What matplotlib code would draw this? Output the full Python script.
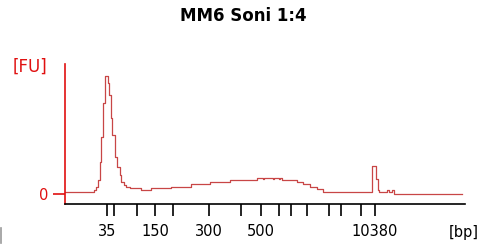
import numpy as np
import matplotlib
matplotlib.use("Agg")
import matplotlib.pyplot as plt
from matplotlib.lines import Line2D

# Posiciones de migracion de la escalera (unidades del eje x) y tamanos en bp
escalera_pos = [107, 114, 137, 155, 173, 209, 241, 261, 279, 291, 307, 329, 341, 361, 375]
escalera_bp = [35, 50, 100, 150, 200, 300, 400, 500, 600, 700, 1000, 2000, 3000, 7000, 10380]
etiquetas_bp = [35, 150, 300, 500, 10380]

# Electroferograma: inicio de cada escalon y nivel de fluorescencia [FU]
tiempo = [65, 94, 96.3, 98, 99.7, 101.3, 103, 104.7, 108, 109, 110.7, 112.3, 114.7,
          117.3, 119.7, 121.3, 124, 126.3, 130, 141, 151, 171, 191, 210, 230, 240,
          257, 263, 264, 273, 274, 279, 280, 282, 297, 303, 310, 317, 323, 372,
          375.7, 377.7, 379, 387, 389, 392, 393.5, 462]
fu = [1.7, 4, 7, 14, 32, 57, 91, 118, 111, 99, 76, 59, 37,
      27, 19, 12, 9, 6.7, 6, 4, 5.7, 7.3, 9.7, 11.7, 13.7, 14,
      16.3, 15, 16.3, 15, 16.3, 15, 16.3, 14, 12.3, 9.7, 7.3, 5, 2.3, 28,
      15, 4, 1.7, 4, 2, 4, 0.5, 0.5]

ROJO = "#e01010"
LINEA = "#c84646"

fig = plt.figure(figsize=(4.8, 2.45), dpi=100)
ax = fig.add_axes([65 / 480, 41 / 245, 400 / 480, 140 / 245])

ax.plot(tiempo, fu, drawstyle="steps-post", color=LINEA, lw=0.9)

ax.set_xlim(65, 465)
ax.set_ylim(-10, 130)

for s in ["top", "right"]:
    ax.spines[s].set_visible(False)
ax.spines["left"].set_color(ROJO)
ax.spines["left"].set_linewidth(1.2)
ax.spines["bottom"].set_color("black")
ax.spines["bottom"].set_linewidth(1.2)

ax.set_xticks(escalera_pos)
ax.set_xticklabels([str(b) if b in etiquetas_bp else "" for b in escalera_bp])
ax.tick_params(axis="x", direction="out", length=8.6, width=1.2, pad=5.5,
               labelsize=10.5, colors="black")

ax.set_yticks([0])
ax.set_yticklabels(["0"])
ax.tick_params(axis="y", direction="out", length=8.6, width=1.2, pad=3.5,
               labelsize=10.5, colors=ROJO)

fig.text(243 / 480, 1 - 16 / 245, "MM6 Soni 1:4", ha="center", va="center",
         fontsize=12, fontweight="bold")
fig.text(30 / 480, 1 - 67 / 245, "[FU]", ha="center", va="center",
         fontsize=12, color=ROJO)
fig.text(464 / 480, 1 - 232 / 245, "[bp]", ha="center", va="center",
         fontsize=10.5, color="black")

# pequeno resto gris en la esquina inferior izquierda
fig.add_artist(Line2D([1 / 480, 1 / 480], [1 - 243 / 245, 1 - 228 / 245],
                      color="#999999", lw=1.2, transform=fig.transFigure))

fig.savefig("out.png", dpi=100)
